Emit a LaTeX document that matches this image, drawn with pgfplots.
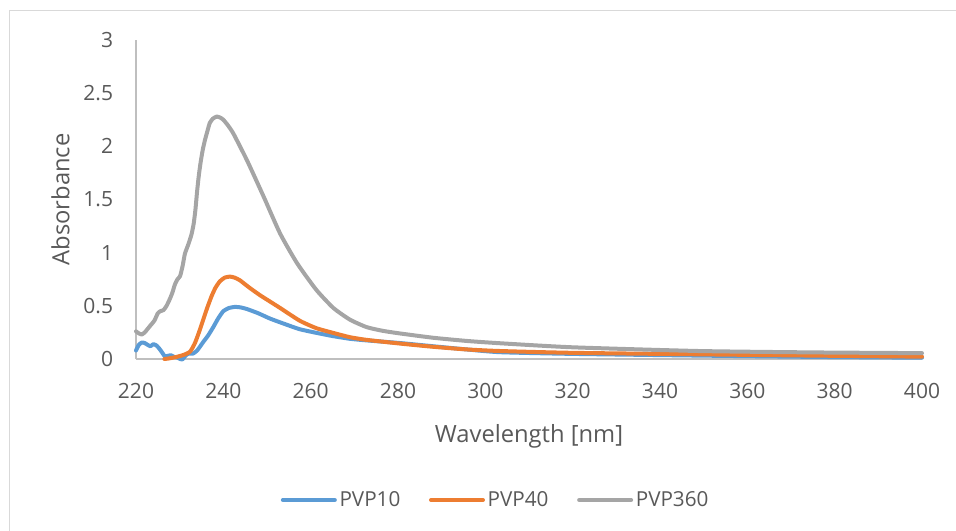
\documentclass[border=0pt]{standalone}
\usepackage{fontspec}
\setmainfont{Open Sans}
\usepackage{pgfplots}
\pgfplotsset{compat=1.18}
\definecolor{cblue}{HTML}{5B9BD5}
\definecolor{corange}{HTML}{ED7D31}
\definecolor{cgray}{HTML}{A5A5A5}
\definecolor{ctext}{HTML}{595959}
\definecolor{caxis}{HTML}{BFBFBF}
\definecolor{cframe}{HTML}{D9D9D9}
\begin{document}
\begin{tikzpicture}
\path[use as bounding box] (-102pt,-129pt) rectangle (615pt,269.25pt);
\draw[cframe, line width=0.75pt] (-94.5pt,-140pt) -- (-94.5pt,261pt) -- (620pt,261pt);
\begin{axis}[
  at={(0,0)}, anchor=south west,
  scale only axis, width=589.5pt, height=239.25pt,
  xmin=220, xmax=400, ymin=0, ymax=3,
  axis lines=left,
  axis line style={-, caxis, line width=1.2pt},
  clip=false,
  xtick={220,240,...,400},
  ytick={0,0.5,1,1.5,2,2.5,3},
  major tick length=0pt,
  /pgf/number format/assume math mode=true,
  tick label style={font=\fontsize{15.75}{18}\selectfont, text=ctext},
  yticklabel style={anchor=east, inner sep=0pt, xshift=-17pt},
  xticklabel style={anchor=north, inner sep=0pt, yshift=-18pt},
  xlabel={Wavelength [nm]},
  ylabel={Absorbance},
  label style={font=\fontsize{17.8}{20}\selectfont, text=ctext},
  xlabel style={at={(axis description cs:0.5,-0.2633)}, anchor=base},
  ylabel style={at={(axis description cs:-0.0960,0.5)}, anchor=center},
  legend columns=3,
  legend style={at={(axis description cs:0.458,-0.442)}, anchor=center,
    draw=none, fill=none, font=\fontsize{15.5}{18}\selectfont, text=ctext,
    /tikz/every even column/.append style={column sep=19.5pt}},
  legend image code/.code={\draw[#1, line width=3pt] (0pt,0pt) -- (39pt,0pt);},
  every axis plot/.append style={line width=3pt, line join=round, line cap=round, smooth, tension=0.35},
]
\addplot[cblue] coordinates {
(220,0.08) (220.6,0.13) (221.3,0.155) (222.0,0.15) (222.6,0.135) (223.3,0.12)
(224.0,0.14) (224.6,0.13) (225.3,0.10) (226.0,0.06) (226.6,0.025) (227.3,0.03)
(228.0,0.035) (228.7,0.02) (229.4,0.015) (230.1,0.0) (230.6,-0.005) (231.3,0.03)
(232.0,0.05) (233.0,0.05) (234.0,0.08) (235.4,0.16) (236.5,0.22) (237.7,0.30)
(238.8,0.38) (240.0,0.45) (241.3,0.48) (242.7,0.49) (244.0,0.485) (245.4,0.47)
(248,0.43) (250.7,0.38) (254,0.33) (257.5,0.28) (262,0.24) (265,0.216)
(269,0.19) (272.8,0.175) (280.5,0.15) (288,0.12) (295.7,0.09) (303.4,0.064)
(320,0.048) (349,0.032) (375,0.02) (400,0.012)
};
\addlegendentry{PVP10}
\addplot[corange] coordinates {
(226.5,0.0) (227.5,0.005) (229.3,0.02) (231,0.04) (232.4,0.07) (233.5,0.15)
(234.5,0.26) (235.4,0.37) (236.3,0.48) (237.3,0.59) (238.2,0.67) (239.2,0.73)
(240.3,0.765) (241.5,0.775) (242.6,0.765) (243.8,0.74) (246,0.67) (248.4,0.60)
(250.7,0.54) (253,0.48) (257.5,0.36) (261.3,0.29) (265.2,0.245) (269,0.205)
(272.8,0.18) (280.5,0.145) (288,0.115) (295.7,0.09) (303.4,0.075) (320,0.058)
(349,0.044) (375,0.032) (400,0.022)
};
\addlegendentry{PVP40}
\addplot[cgray] coordinates {
(220,0.26) (220.7,0.24) (221.3,0.23) (222,0.25) (222.6,0.28) (223.4,0.32)
(224.2,0.36) (225,0.43) (225.6,0.45) (226.3,0.46) (227,0.50) (227.7,0.56)
(228.3,0.62) (228.9,0.70) (229.5,0.75) (230.1,0.78) (230.7,0.88) (231.2,0.99)
(232,1.08) (232.7,1.17) (233.2,1.27) (233.6,1.40) (234,1.58) (234.4,1.73)
(234.8,1.85) (235.3,1.97) (235.8,2.06) (236.4,2.15) (236.9,2.22) (237.6,2.26)
(238.5,2.28) (239.3,2.27) (240,2.25) (241,2.20) (242.3,2.12) (245.4,1.87)
(249.2,1.53) (253,1.18) (256.9,0.90) (261.3,0.65) (265.2,0.48)
(269,0.37) (272.8,0.30) (276.5,0.265) (280.5,0.24) (288,0.20)
(295.7,0.17) (303.4,0.148) (320,0.11) (349,0.075) (375,0.062) (400,0.055)
};
\addlegendentry{PVP360}
\end{axis}
\end{tikzpicture}
\end{document}
